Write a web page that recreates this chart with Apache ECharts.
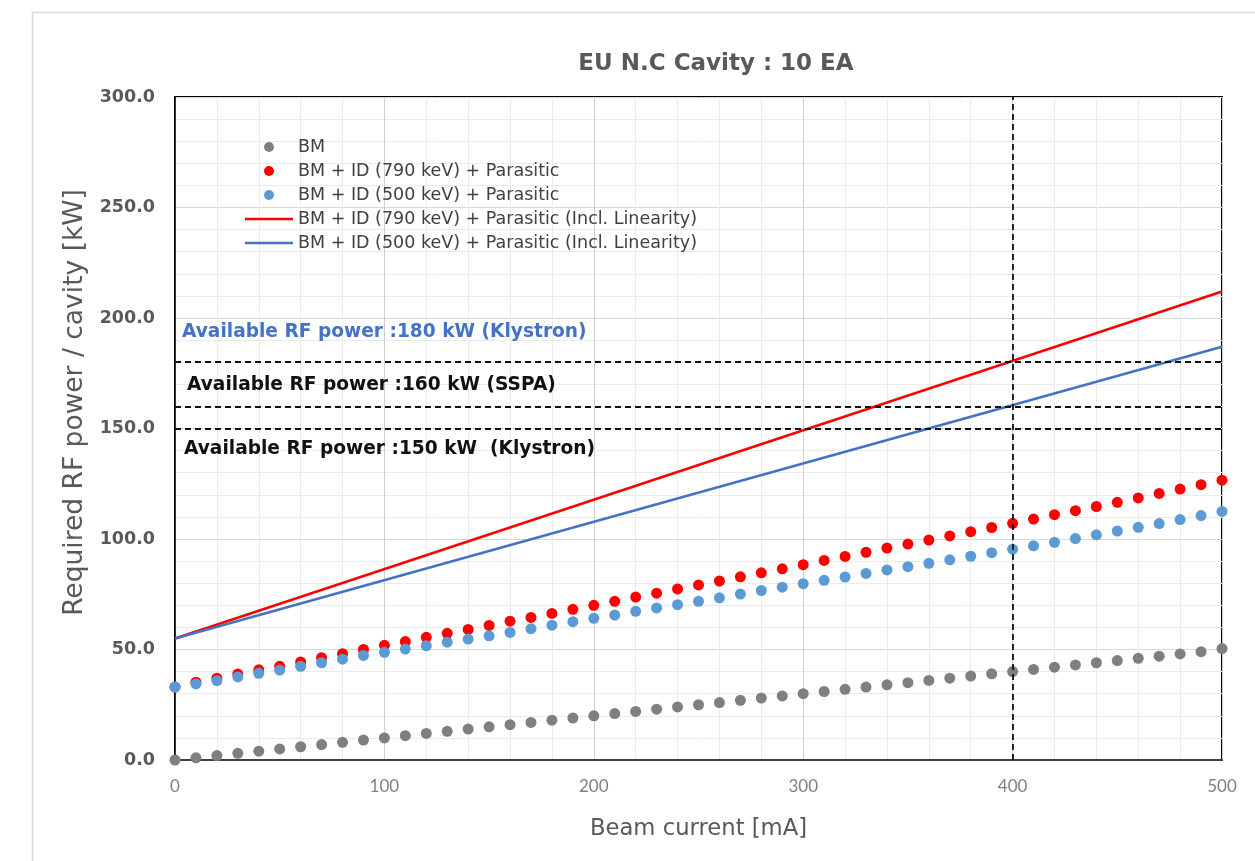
<!DOCTYPE html>
<html>
<head>
<meta charset="utf-8">
<script src="https://cdn.jsdelivr.net/npm/echarts@6/dist/echarts.min.js"></script>
<style>
html,body{margin:0;padding:0;background:#fff;}
#chart{width:1255px;height:861px;}
</style>
</head>
<body>
<div id="chart"></div>
<script>
const titleText = 'EU N.C Cavity : 10 EA';
const xAxisName = 'Beam current [mA]';
const yAxisName = 'Required RF power / cavity [kW]';
const seriesNames = [
  'BM',
  'BM + ID (790 keV) + Parasitic',
  'BM + ID (500 keV) + Parasitic',
  'BM + ID (790 keV) + Parasitic (Incl. Linearity)',
  'BM + ID (500 keV) + Parasitic (Incl. Linearity)'
];
const current = [0,10,20,30,40,50,60,70,80,90,100,110,120,130,140,150,160,170,180,190,200,
  210,220,230,240,250,260,270,280,290,300,310,320,330,340,350,360,370,380,390,400,
  410,420,430,440,450,460,470,480,490,500];
const bm = [0,1.0,2.0,3.0,4.0,5.0,6.0,7.0,8.0,9.0,10.0,11.0,12.0,13.0,14.0,15.0,16.0,17.0,18.0,19.0,20.0,
  21.0,22.0,23.0,24.0,25.0,26.0,27.0,28.0,29.0,30.0,31.0,32.0,33.0,34.0,35.0,36.0,37.0,38.0,39.0,40.0,
  41.0,42.0,43.0,44.0,45.0,46.0,47.0,48.0,49.0,50.4];
const bmId790 = [33.0,35.2,37.0,38.9,40.8,42.4,44.4,46.3,48.1,50.0,51.9,53.6,55.5,57.3,59.1,60.9,62.8,64.5,66.3,68.2,70.0,
  71.8,73.7,75.5,77.4,79.2,81.0,82.9,84.7,86.5,88.4,90.3,92.1,94.0,95.9,97.7,99.5,101.4,103.3,105.2,107.1,
  109.0,111.0,112.8,114.7,116.6,118.6,120.6,122.6,124.6,126.6];
const bmId500 = [33.0,34.4,35.9,37.6,39.2,40.7,42.4,44.0,45.6,47.3,48.7,50.2,51.7,53.3,54.7,56.2,57.7,59.4,61.0,62.6,64.1,
  65.6,67.3,68.8,70.3,71.8,73.4,75.1,76.7,78.2,79.8,81.3,82.8,84.4,86.0,87.5,89.0,90.6,92.2,93.8,95.4,
  96.9,98.5,100.2,101.9,103.6,105.3,107.0,108.8,110.6,112.5];
const lineCurrent = [0, 500];
const lin790 = [55, 212];
const lin500 = [55, 187];
const refPowers = [180, 160, 150];
const refCurrent = [400];
const refLabels = [
  'Available RF power :180 kW (Klystron)',
  'Available RF power :160 kW (SSPA)',
  'Available RF power :150 kW  (Klystron)'
];

const FONT = 'DejaVu Sans';
const NARROW = "'Liberation Sans Narrow', Lato, sans-serif";
const pair = (xs, ys) => xs.map((x, i) => [x, ys[i]]);
const lineIcon = 'path://M0,0 L48,0 L48,2.6 L0,2.6 Z';

const chart = echarts.init(document.getElementById('chart'), null, {renderer: 'canvas'});
const option = {
  backgroundColor: '#ffffff',
  animation: false,
  title: {
    text: titleText,
    left: 711, top: 48, textAlign: 'center',
    textStyle: {fontFamily: FONT, fontSize: 23, fontWeight: 'bold', color: '#595959'}
  },
  legend: {
    orient: 'vertical',
    left: 240, top: 132,
    itemWidth: 48, itemHeight: 10, itemGap: 4,
    textStyle: {fontFamily: FONT, fontSize: 17.5, color: '#404040', lineHeight: 20},
    data: [
      {name: seriesNames[0], icon: 'circle'},
      {name: seriesNames[1], icon: 'circle'},
      {name: seriesNames[2], icon: 'circle'},
      {name: seriesNames[3], icon: lineIcon},
      {name: seriesNames[4], icon: lineIcon}
    ]
  },
  grid: {left: 175, top: 97, width: 1047, height: 663, show: true, borderColor: '#000', borderWidth: 2, backgroundColor: 'transparent'},
  xAxis: {
    type: 'value', min: 0, max: 500, interval: 100,
    name: xAxisName, nameLocation: 'middle', nameGap: 58,
    nameTextStyle: {fontFamily: FONT, fontSize: 22.7, color: '#595959'},
    axisLine: {show: true, lineStyle: {color: '#404040', width: 2}},
    axisTick: {show: false},
    axisLabel: {margin: 18, fontFamily: NARROW, fontSize: 17, color: '#7f7f7f'},
    splitLine: {show: true, lineStyle: {color: '#cfcfcf', width: 1}},
    minorTick: {show: false, splitNumber: 5},
    minorSplitLine: {show: true, lineStyle: {color: '#ebebeb', width: 1}}
  },
  yAxis: {
    type: 'value', min: 0, max: 300, interval: 50,
    name: yAxisName, nameLocation: 'middle', nameGap: 78, nameRotate: 90,
    nameTextStyle: {fontFamily: FONT, fontSize: 26.5, color: '#595959', padding: [0, 0, 0, 52]},
    axisLine: {show: true, lineStyle: {color: '#000', width: 1.5}},
    axisTick: {show: false},
    axisLabel: {margin: 20, fontFamily: FONT, fontSize: 17.5, fontWeight: 'bold', color: '#595959',
      formatter: v => v.toFixed(1)},
    splitLine: {show: true, lineStyle: {color: '#d9d9d9', width: 1}},
    minorTick: {show: false, splitNumber: 5},
    minorSplitLine: {show: true, lineStyle: {color: '#ebebeb', width: 1}}
  },
  series: [
    {
      name: '', type: 'line', data: [], silent: true,
      markLine: {
        silent: true, symbol: 'none', animation: false,
        label: {show: false},
        lineStyle: {color: '#111', type: [6, 4], width: 1.8},
        data: refPowers.map(v => ({yAxis: v})).concat(refCurrent.map(v => ({xAxis: v})))
      }
    },
    {name: seriesNames[0], type: 'scatter', symbolSize: 11, data: pair(current, bm),
      itemStyle: {color: '#7f7f7f', opacity: 1}},
    {name: seriesNames[1], type: 'scatter', symbolSize: 11, data: pair(current, bmId790),
      itemStyle: {color: '#ff0000', opacity: 1}},
    {name: seriesNames[2], type: 'scatter', symbolSize: 11, data: pair(current, bmId500),
      itemStyle: {color: '#5b9bd5', opacity: 1}},
    {name: seriesNames[3], type: 'line', showSymbol: false, symbol: 'none', data: pair(lineCurrent, lin790),
      lineStyle: {color: '#ff0000', width: 2.5}, itemStyle: {color: '#ff0000'}},
    {name: seriesNames[4], type: 'line', showSymbol: false, symbol: 'none', data: pair(lineCurrent, lin500),
      lineStyle: {color: '#4472c4', width: 2.5}, itemStyle: {color: '#4472c4'}}
  ],
  graphic: [
    {type: 'rect', left: 30, top: 10, z: -10, silent: true,
      shape: {width: 1300, height: 900}, style: {fill: 'none', stroke: '#d9d9d9', lineWidth: 1.5}},
    {type: 'text', left: 182, top: 323, z: 100, silent: true,
      style: {text: refLabels[0], fontFamily: FONT, fontSize: 18.6, fontWeight: 'bold', fill: '#4472c4'}},
    {type: 'text', left: 187, top: 376, z: 100, silent: true,
      style: {text: refLabels[1], fontFamily: FONT, fontSize: 18.6, fontWeight: 'bold', fill: '#111'}},
    {type: 'text', left: 184, top: 440, z: 100, silent: true,
      style: {text: refLabels[2], fontFamily: FONT, fontSize: 18.6, fontWeight: 'bold', fill: '#111'}}
  ]
};
chart.setOption(option);
</script>
</body>
</html>
